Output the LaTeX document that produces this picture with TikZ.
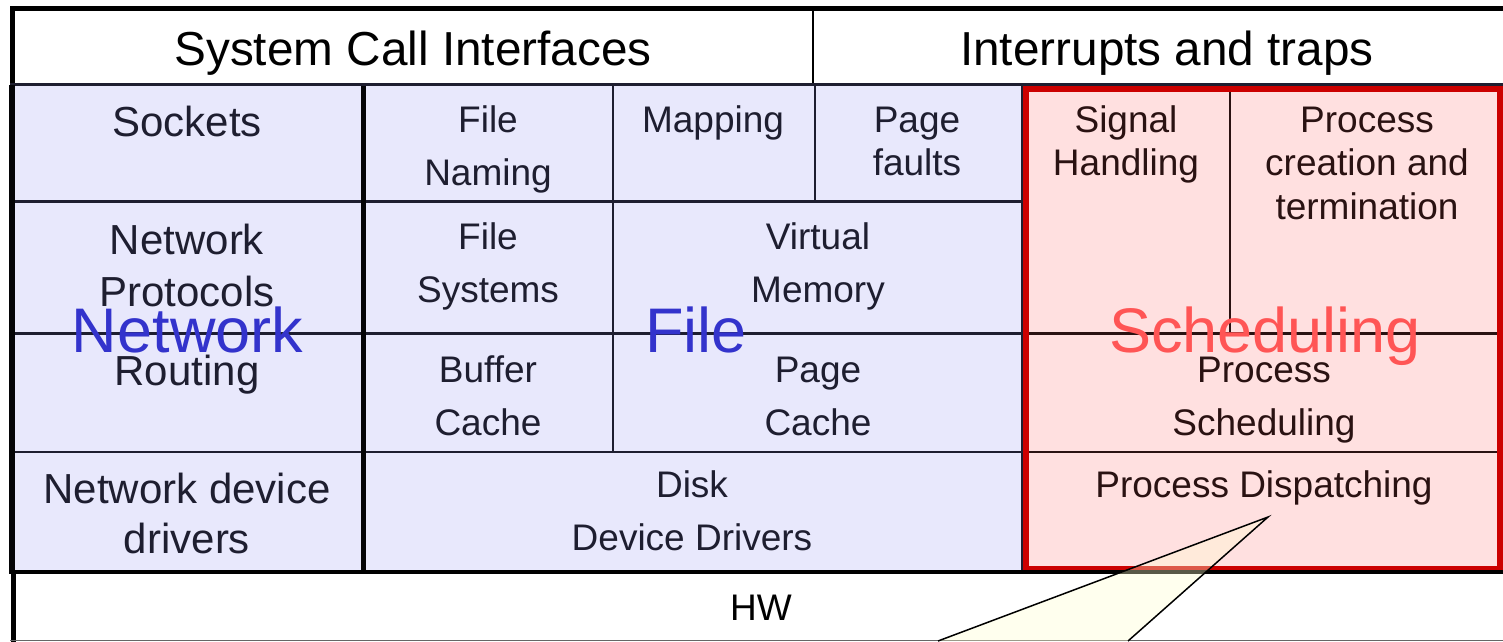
\documentclass[tikz,border=0pt]{standalone}
\usepackage{fontspec}
\setmainfont{Liberation Sans}
\definecolor{lav}{HTML}{E8E8FC}
\definecolor{rosefill}{HTML}{FFE0E0}
\definecolor{navy}{HTML}{1E1E30}
\definecolor{maroon}{HTML}{2A1212}
\definecolor{redline}{HTML}{CC0000}
\definecolor{bigblue}{HTML}{3333CC}
\definecolor{bigred}{HTML}{FF5555}
\definecolor{calloutfill}{HTML}{FFFFD0}
\tikzset{
  hdr/.style={font=\fontsize{47.7}{52}\selectfont, text=black, anchor=base, inner sep=0pt},
  netlbl/.style={font=\fontsize{42}{48}\selectfont, text=navy, anchor=base, inner sep=0pt},
  celllbl/.style={font=\fontsize{37}{44}\selectfont, text=navy, anchor=base, inner sep=0pt},
  redlbl/.style={celllbl, text=maroon},
  biglbl/.style={font=\fontsize{63}{70}\selectfont, anchor=base, inner sep=0pt},
  gridline/.style={draw=navy, line width=2.5pt},
  redgrid/.style={draw=maroon, line width=2.5pt},
}
\begin{document}
\begin{tikzpicture}[x=1pt, y=-1pt]
  \useasboundingbox (0,0) rectangle (1503,641);
  \clip (0,0) rectangle (1503,641);
  \fill[white] (0,0) rectangle (1503,641);

  % header row
  \draw[black, line width=5pt] (12.5,8) -- (1520,8);
  \draw[black, line width=5pt] (12.5,6) -- (12.5,86);
  \draw[black, line width=2pt] (813,8) -- (813,85);
  \draw[navy, line width=3.5pt] (10,85) -- (1520,85);
  \node[hdr] (sci) at (413,65) {System Call Interfaces};
  \node[hdr] (itr) at (1167,65) {Interrupts and traps};

  % file and network area
  \fill[lav] (10,86) rectangle (1024,572);
  % process area
  \fill[rosefill] (1024,86) rectangle (1520,570);

  % grid of the file and network area
  \draw[gridline] (10,201.5) -- (1024,201.5);
  \draw[gridline] (10,333.5) -- (1024,333.5);
  \draw[gridline] (10,452) -- (1024,452);
  \draw[gridline] (613,86) -- (613,452);
  \draw[gridline] (815,86) -- (815,201.5);
  \draw[draw=black!85!navy, line width=5pt] (363,86) -- (363,572);
  \draw[draw=black!85!navy, line width=6pt] (12,85) -- (12,574);
  \draw[navy, line width=2.5pt] (1022,86) -- (1022,572);

  % grid of the process area
  \draw[redgrid] (1024,333.5) -- (1520,333.5);
  \draw[redgrid] (1024,452) -- (1520,452);
  \draw[redgrid] (1230,86) -- (1230,333.5);
  \draw[redline, line width=5.5pt] (1026,89) rectangle (1500,568.5);

  % hardware row
  \draw[black, line width=4.5pt] (10,572) -- (1520,572);
  \draw[black, line width=5pt] (13,572) -- (13,645);
  \draw[black!60, line width=1.5pt] (10,640.5) -- (1520,640.5);
  \node[celllbl, text=black] (hw) at (761,620) {HW};

  % network column
  \node[netlbl] (sock) at (187,136) {Sockets};
  \node[netlbl] (np1) at (187,254) {Network};
  \node[netlbl] (np2) at (187,306) {Protocols};
  \node[netlbl] (rout) at (187,385) {Routing};
  \node[netlbl] (ndd1) at (187,503) {Network device};
  \node[netlbl] (ndd2) at (187,553) {drivers};

  % file column
  \node[celllbl] (fn1) at (488,132) {File};
  \node[celllbl] (fn2) at (488,185) {Naming};
  \node[celllbl] (map) at (713,132) {Mapping};
  \node[celllbl] (pf1) at (917,132) {Page};
  \node[celllbl] (pf2) at (917,175) {faults};
  \node[celllbl] (fs1) at (488,249) {File};
  \node[celllbl] (fs2) at (488,302) {Systems};
  \node[celllbl] (vm1) at (818,249) {Virtual};
  \node[celllbl] (vm2) at (818,302) {Memory};
  \node[celllbl] (bc1) at (488,382) {Buffer};
  \node[celllbl] (bc2) at (488,435) {Cache};
  \node[celllbl] (pc1) at (818,382) {Page};
  \node[celllbl] (pc2) at (818,435) {Cache};
  \node[celllbl] (dd1) at (692,497) {Disk};
  \node[celllbl] (dd2) at (692,550) {Device Drivers};

  % process column
  \node[redlbl] (sh1) at (1126,132) {Signal};
  \node[redlbl] (sh2) at (1126,175) {Handling};
  \node[redlbl] (pct1) at (1367,132) {Process};
  \node[redlbl] (pct2) at (1367,175) {creation and};
  \node[redlbl] (pct3) at (1367,219) {termination};
  \node[redlbl] (ps1) at (1264,382) {Process};
  \node[redlbl] (ps2) at (1264,435) {Scheduling};
  \node[redlbl] (pd) at (1264,497) {Process Dispatching};

  % subsystem titles
  \node[biglbl, text=bigblue] (tnet) at (187.5,352) {Network};
  \node[biglbl, text=bigblue] (tfile) at (696,352) {File};
  \node[biglbl, text=bigred] (tsched) at (1265,352) {Scheduling};

  % callout pointing at the dispatcher
  \coordinate (tip) at (1268,517);
  \coordinate (bl) at (938,641);
  \coordinate (br) at (1128,641);
  \fill[calloutfill, fill opacity=0.35] (tip) -- (bl) -- (br) -- cycle;
  \draw[black, line width=1.5pt] (bl) -- (tip) -- (br);
\end{tikzpicture}
\end{document}
